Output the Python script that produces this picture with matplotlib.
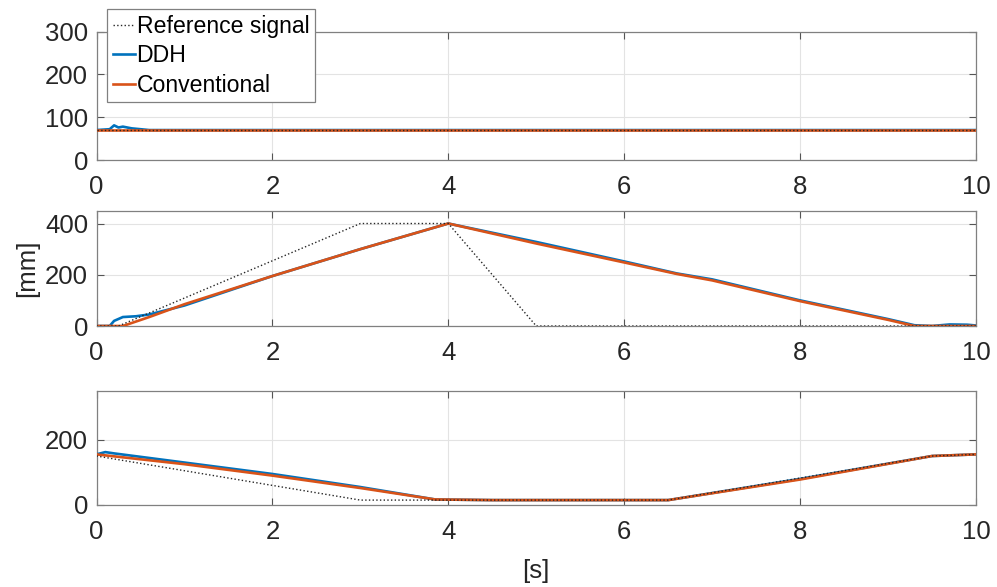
import numpy as np
import matplotlib
matplotlib.use('Agg')
import matplotlib.pyplot as plt

plt.rcParams['font.family'] = ['Liberation Sans', 'DejaVu Sans']
plt.rcParams['font.size'] = 18.5

# panel 1 (top)
t1_ref = [0, 10]
y1_ref = [70, 70]
t1_ddh = [0, 0.15, 0.2, 0.25, 0.3, 0.4, 0.5, 0.6, 10]
y1_ddh = [70, 72, 81, 76, 78, 74, 72, 70, 70]
t1_conv = [0, 10]
y1_conv = [70, 70]

# panel 2 (middle)
t2_ref = [0, 0.25, 3, 4, 5, 10]
y2_ref = [0, 0, 400, 400, 0, 0]
t2_ddh = [0, 0.15, 0.2, 0.3, 0.45, 0.6, 1.0, 2.0, 3.0, 4.0, 5.0, 6.0, 6.6, 7.0, 8.0, 9.0, 9.3, 9.5, 9.7, 9.9, 10]
y2_ddh = [0, 0, 20, 35, 38, 45, 80, 195, 300, 400, 328, 252, 205, 182, 100, 27, 3, 0, 6, 5, 2]
t2_conv = [0, 0.3, 0.6, 1.0, 2.0, 3.0, 4.0, 5.0, 6.0, 6.6, 7.0, 8.0, 9.0, 9.3, 10]
y2_conv = [0, 0, 35, 85, 195, 300, 400, 322, 248, 203, 178, 97, 24, 0, 0]

# panel 3 (bottom)
t3_ref = [0, 3, 6.5, 9.5, 10]
y3_ref = [150, 15, 15, 150, 155]
t3_ddh = [0, 0.1, 0.2, 1.0, 2.0, 3.0, 3.85, 4.5, 6.5, 8.0, 9.5, 10]
y3_ddh = [155, 162, 158, 130, 95, 55, 17, 15, 15, 80, 150, 155]
t3_conv = [0, 1.0, 2.0, 3.0, 3.85, 4.5, 6.5, 8.0, 9.5, 10]
y3_conv = [155, 125, 90, 52, 17, 15, 15, 78, 150, 155]

ylims = [(0, 300), (0, 450), (0, 350)]
yticks = [[0, 100, 200, 300], [0, 200, 400], [0, 200]]
xticks = [0, 2, 4, 6, 8, 10]

blue = '#0072BD'
orange = '#D95319'

W, H = 997, 587
fig = plt.figure(figsize=(W / 100, H / 100), dpi=100)

# axes boxes in pixels: left, top, right, bottom
px_boxes = [(96.5, 31.7, 976, 160), (96.5, 210.7, 976, 326), (96.5, 390.7, 976, 505)]

data = [(t1_ref, y1_ref, t1_ddh, y1_ddh, t1_conv, y1_conv),
        (t2_ref, y2_ref, t2_ddh, y2_ddh, t2_conv, y2_conv),
        (t3_ref, y3_ref, t3_ddh, y3_ddh, t3_conv, y3_conv)]

axes = []
for i, (l, t, r, b) in enumerate(px_boxes):
    ax = fig.add_axes((l / W, 1 - b / H, (r - l) / W, (b - t) / H))
    tr, yr, td, yd, tc, yc = data[i]
    ax.plot(td, yd, color=blue, lw=1.9, label='DDH', zorder=3)
    ax.plot(tc, yc, color=orange, lw=1.9, label='Conventional', zorder=4)
    ax.plot(tr, yr, color='#262626', lw=1.0, ls=':', label='Reference signal', zorder=5)
    ax.set_xlim(0, 10)
    ax.set_ylim(*ylims[i])
    ax.set_xticks(xticks)
    ax.set_yticks(yticks[i])
    ax.grid(True, color='#e3e3e3', lw=0.8)
    ax.set_axisbelow(True)
    ax.tick_params(direction='in', top=True, right=True, length=5,
                   color='#555555', labelcolor='#262626', labelsize=18.5)
    ax.tick_params(axis='x', pad=11)
    ax.tick_params(axis='y', pad=6)
    for s in ax.spines.values():
        s.set_color('#808080')
        s.set_linewidth(0.9)
    axes.append(ax)

# axis labels placed in figure pixels
fig.text(27 / W, 1 - 268 / H, '[mm]', rotation=90, ha='center', va='center',
         fontsize=18.5, color='#262626')
fig.text(536 / W, 1 - 571 / H, '[s]', ha='center', va='center',
         fontsize=18.5, color='#262626')

h, lab = axes[0].get_legend_handles_labels()
order = [2, 0, 1]
leg = axes[0].legend([h[k] for k in order], [lab[k] for k in order],
                     loc='upper left', bbox_to_anchor=(107 / W, 1 - 9 / H),
                     bbox_transform=fig.transFigure, borderaxespad=0,
                     fancybox=False, framealpha=1, edgecolor='#808080',
                     handlelength=0.95, handletextpad=0.08, labelspacing=0.28,
                     borderpad=0.25, fontsize=16.6)
leg.get_frame().set_linewidth(0.9)
leg.set_zorder(10)

fig.savefig('out.png', dpi=100)
